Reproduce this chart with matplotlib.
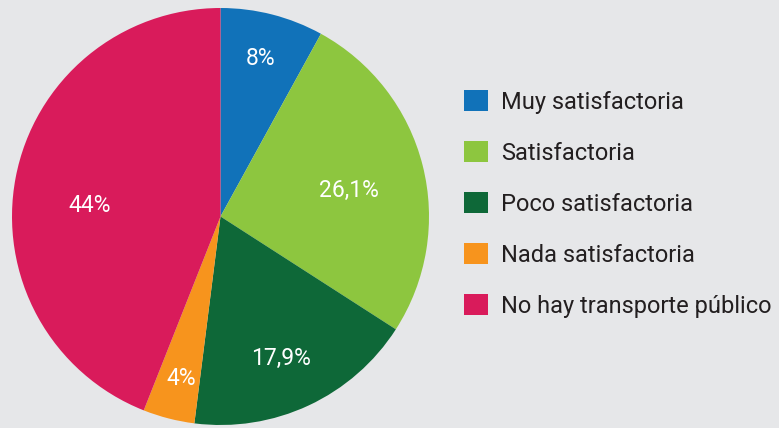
import matplotlib.pyplot as plt
from matplotlib.patches import Patch

categories = ["Muy satisfactoria", "Satisfactoria", "Poco satisfactoria",
              "Nada satisfactoria", "No hay transporte público"]
values = [8, 26.1, 17.9, 4, 44]
value_labels = ["8%", "26,1%", "17,9%", "4%", "44%"]
colors = ["#1172b9", "#8dc63f", "#0e6838", "#f7941d", "#d91b5b"]

# label positions inside the pie (data coords, radius = 1)
label_xy = [(0.19, 0.76), (0.616, 0.127), (0.29, -0.679), (-0.189, -0.775), (-0.626, 0.055)]

plt.rcParams['font.family'] = ['Roboto', 'DejaVu Sans']
bg = "#e6e7e9"

fig = plt.figure(figsize=(7.79, 4.28), dpi=100)
fig.patch.set_facecolor(bg)

ax = fig.add_axes([12 / 779, 3 / 428, 417 / 779, 417 / 428])
ax.set_facecolor(bg)
ax.pie(values, colors=colors, startangle=90, counterclock=False, radius=1,
       wedgeprops=dict(linewidth=0))
for (x, y), lab in zip(label_xy, value_labels):
    ax.text(x, y, lab, color="white", fontsize=16.5, ha="center", va="center")
ax.set_xlim(-1, 1)
ax.set_ylim(-1, 1)
ax.set_aspect("equal")
ax.axis("off")

handles = [Patch(facecolor=c, label=l) for c, l in zip(colors, categories)]
fig.legend(handles=handles, loc="upper left", bbox_to_anchor=(464 / 779, 1 - 90 / 428),
           frameon=False, fontsize=17, handlelength=1.02, handleheight=1.02,
           handletextpad=0.55, labelspacing=1.15, borderpad=0, borderaxespad=0,
           labelcolor="#231f20")

plt.savefig("out.png", dpi=100, facecolor=bg)
